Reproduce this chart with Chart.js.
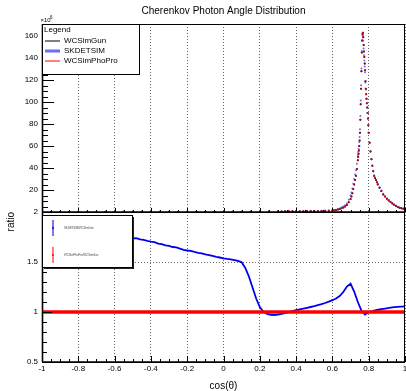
<!DOCTYPE html>
<html>
<head>
<meta charset="utf-8">
<script src="https://cdn.jsdelivr.net/npm/chart.js@4.4.0/dist/chart.umd.min.js"></script>
<style>
  html, body { margin: 0; padding: 0; background: #fff; }
  #wrap { position: relative; width: 406px; height: 391px; overflow: hidden; }
  canvas { position: absolute; left: 0; }
  #topPad { top: 0; }
  #ratioPad { top: 205px; }
</style>
</head>
<body>
<div id="wrap">
  <canvas id="topPad" width="406" height="213"></canvas>
  <canvas id="ratioPad" width="406" height="186"></canvas>
</div>
<script>
// ---- data ----
// upper pad: entries per bin, in units of 10^6
const topCos = [
  -1, -0.95, -0.9, -0.85, -0.8, -0.75, -0.7, -0.65, -0.6, -0.55, -0.5, -0.45, -0.4,
  -0.35, -0.3, -0.25, -0.2, -0.15, -0.1, -0.05, 0, 0.05, 0.1, 0.15, 0.2, 0.25,
  0.3, 0.32, 0.34, 0.36, 0.38, 0.4, 0.42, 0.44, 0.46, 0.48, 0.5, 0.52, 0.54, 0.56, 0.58,
  0.6, 0.61, 0.62, 0.63, 0.64, 0.65, 0.66, 0.67, 0.68, 0.69,
  0.7, 0.705, 0.71, 0.715, 0.72, 0.725, 0.73, 0.735,
  0.74, 0.742, 0.744, 0.746, 0.748, 0.75, 0.752, 0.754, 0.756, 0.758, 0.76, 0.762,
  0.764, 0.766, 0.768, 0.77, 0.772, 0.774, 0.776, 0.778, 0.78, 0.782, 0.784, 0.786,
  0.788, 0.79, 0.792, 0.794, 0.796, 0.798, 0.8,
  0.805, 0.81, 0.815, 0.82, 0.825, 0.83, 0.835, 0.84, 0.845, 0.85,
  0.86, 0.87, 0.88, 0.89, 0.9, 0.91, 0.92, 0.93, 0.94, 0.95, 0.96, 0.97, 0.98, 0.99, 1
];
const gunCounts = [
  0.1, 0.1, 0.1, 0.1, 0.1, 0.1, 0.1, 0.12, 0.12, 0.12, 0.12, 0.12, 0.14,
  0.14, 0.14, 0.15, 0.15, 0.16, 0.17, 0.18, 0.19, 0.2, 0.22, 0.26, 0.32, 0.4,
  0.5, 0.55, 0.6, 0.62, 0.66, 0.7, 0.72, 0.76, 0.8, 0.85, 0.9, 0.95, 1.0, 1.06, 1.15,
  1.3, 1.5, 1.8, 2.2, 2.8, 3.4, 4.1, 5.0, 6.4, 8.8,
  11.8, 14, 17, 21, 25, 29, 33, 39,
  47, 50, 53, 56, 60, 65, 72, 84, 98, 112, 128, 145,
  156, 162, 163, 159, 152, 146, 141, 135, 129, 119, 112, 107,
  103, 99, 95, 90, 85, 79, 72,
  63, 55, 48, 42, 37, 33, 31, 29, 27, 25,
  22, 19, 16, 14, 12, 10.5, 9, 7.8, 6.6, 5.5, 4.6, 3.9, 3.3, 2.9, 2.6
];
const skdetsimCounts = [
  0.18, 0.18, 0.18, 0.18, 0.18, 0.18, 0.18, 0.21, 0.21, 0.21, 0.21, 0.21, 0.24,
  0.24, 0.23, 0.25, 0.24, 0.26, 0.27, 0.28, 0.29, 0.31, 0.33, 0.35, 0.33, 0.39,
  0.49, 0.54, 0.59, 0.62, 0.67, 0.71, 0.74, 0.79, 0.83, 0.89, 0.95, 1.01, 1.08, 1.16, 1.27,
  1.45, 1.69, 2.04, 2.52, 3.25, 4.0, 4.92, 6.15, 8.0, 11.2,
  15.2, 17.8, 21.3, 25.8, 30.1, 34.2, 38, 43.9,
  51.7, 54.5, 57.2, 59.9, 63.6, 68.3, 75.2, 87.4, 101.4, 115.4, 130.6, 146.5,
  156, 160.4, 160.6, 155.8, 148.7, 142.5, 137.9, 132.3, 127.1, 117.8, 111.4, 107,
  103, 99, 95, 90, 85, 79, 72,
  63.2, 55.2, 48.2, 42.3, 37.3, 33.3, 31.3, 29.3, 27.4, 25.4,
  22.5, 19.5, 16.5, 14.4, 12.4, 10.9, 9.4, 8.1, 6.9, 5.8, 4.8, 4.1, 3.5, 3.1, 2.75
];
// WCSimPhoPro / WCSimGun sits on 1 everywhere, so the two histograms coincide
const phoProCounts = gunCounts.slice();

// lower pad: ratios
const ratioCos = [
  -1, -0.98, -0.96, -0.94, -0.92, -0.9, -0.88, -0.86, -0.84, -0.82,
  -0.8, -0.78, -0.76, -0.74, -0.72, -0.7, -0.68, -0.66, -0.64, -0.62,
  -0.6, -0.58, -0.56, -0.54, -0.52, -0.5, -0.48, -0.46, -0.44, -0.42,
  -0.4, -0.38, -0.36, -0.34, -0.32, -0.3, -0.28, -0.26, -0.24, -0.22,
  -0.2, -0.18, -0.16, -0.14, -0.12, -0.1, -0.08, -0.06, -0.04, -0.02,
  0, 0.02, 0.04, 0.06, 0.08, 0.1, 0.12, 0.14, 0.16, 0.18,
  0.2, 0.22, 0.24, 0.26, 0.28, 0.3, 0.32, 0.34, 0.36, 0.38,
  0.4, 0.42, 0.44, 0.46, 0.48, 0.5, 0.52, 0.54, 0.56, 0.58,
  0.6, 0.62, 0.64, 0.66, 0.68, 0.7, 0.72, 0.74, 0.76, 0.78,
  0.8, 0.82, 0.84, 0.86, 0.88, 0.9, 0.92, 0.94, 0.96, 0.98, 1
];
const skdetsimRatio = [
  1.86, 1.855, 1.85, 1.84, 1.835, 1.83, 1.82, 1.815, 1.81, 1.805,
  1.8, 1.79, 1.79, 1.78, 1.78, 1.77, 1.77, 1.765, 1.76, 1.755,
  1.75, 1.75, 1.745, 1.74, 1.742, 1.735, 1.738, 1.727, 1.722, 1.712,
  1.703, 1.698, 1.684, 1.679, 1.666, 1.661, 1.65, 1.646, 1.634, 1.622,
  1.615, 1.611, 1.601, 1.592, 1.586, 1.576, 1.569, 1.561, 1.552, 1.545,
  1.537, 1.531, 1.526, 1.519, 1.512, 1.497, 1.44, 1.355, 1.245, 1.135,
  1.05, 1.003, 0.98, 0.972, 0.97, 0.974, 0.982, 0.99, 0.998, 1.008,
  1.018, 1.026, 1.034, 1.042, 1.05, 1.058, 1.068, 1.078, 1.09, 1.103,
  1.118, 1.135, 1.16, 1.2, 1.255, 1.283, 1.205, 1.1, 1.015, 0.975,
  1.0, 1.01, 1.018, 1.025, 1.031, 1.037, 1.043, 1.048, 1.051, 1.054, 1.057
];
const phoProRatioCos = [-1, 1];
const phoProRatio = [1, 1];

const FONT = "'Liberation Sans', Arial, Helvetica, sans-serif";
Chart.defaults.font.family = FONT;
Chart.defaults.color = '#000';

const points = (xs, ys) => xs.map((x, i) => ({ x: x, y: ys[i] }));
// ROOT prints 1 not 1.0
const plainNum = v => String(Math.round(v * 100) / 100);

// ROOT style frame: thicker axes on left/bottom
function drawFrame(chart) {
  const { ctx, chartArea: a } = chart;
  ctx.save();
  ctx.strokeStyle = '#000';
  ctx.lineWidth = 1;
  ctx.strokeRect(a.left + 0.5, a.top + 0.5, a.right - a.left - 1, a.bottom - a.top);
  ctx.lineWidth = 1.6;
  ctx.beginPath();
  ctx.moveTo(a.left + 0.5, a.top);
  ctx.lineTo(a.left + 0.5, a.bottom);
  ctx.moveTo(a.left, a.bottom);
  ctx.lineTo(a.right, a.bottom);
  ctx.stroke();
  ctx.restore();
}

// inward tick marks
function drawTicks(chart, t) {
  const { ctx, chartArea: a, scales: { x, y } } = chart;
  ctx.save();
  ctx.strokeStyle = '#000';
  ctx.lineWidth = 1;
  ctx.beginPath();
  const nx = Math.round((x.max - x.min) / t.xMinor);
  for (let i = 0; i <= nx; i++) {
    const v = x.min + i * t.xMinor;
    const px = Math.round(x.getPixelForValue(v)) + 0.5;
    const len = (i % t.xPer === 0) ? t.xMajorLen : t.xMinorLen;
    ctx.moveTo(px, a.bottom);
    ctx.lineTo(px, a.bottom - len);
  }
  const ny = Math.floor((y.max - y.min) / t.yMinor + 1e-6);
  for (let i = 0; i <= ny; i++) {
    const v = y.min + i * t.yMinor;
    const py = Math.round(y.getPixelForValue(v)) + 0.5;
    const len = (i % t.yPer === 0) ? t.yMajorLen : t.yMinorLen;
    ctx.moveTo(a.left, py);
    ctx.lineTo(a.left + len, py);
  }
  ctx.stroke();
  ctx.restore();
}

const topDecor = {
  id: 'topDecor',
  afterDatasetsDraw(chart) {
    drawFrame(chart);
    drawTicks(chart, { xMinor: 0.05, xPer: 4, xMajorLen: 4, xMinorLen: 2, yMinor: 5, yPer: 4, yMajorLen: 12, yMinorLen: 6 });
  },
  afterDraw(chart) {
    const { ctx, chartArea: a } = chart;
    ctx.save();
    // exponent
    ctx.fillStyle = '#000';
    ctx.textBaseline = 'alphabetic';
    ctx.textAlign = 'left';
    ctx.font = '6px ' + FONT;
    ctx.fillText('×10', a.left - 1.5, a.top - 2);
    ctx.font = '4.5px ' + FONT;
    ctx.fillText('6', a.left + 8, a.top - 5);
    // legend box
    const l = a.left, t = a.top;
    ctx.fillStyle = '#fff';
    ctx.fillRect(l, t, 97, 50);
    ctx.strokeStyle = '#000';
    ctx.lineWidth = 1;
    ctx.strokeRect(l + 0.5, t + 0.5, 97, 50);
    ctx.fillStyle = '#000';
    ctx.textBaseline = 'middle';
    ctx.font = '8px ' + FONT;
    ctx.fillText('Legend', l + 2, t + 6);
    const rows = [
      { text: 'WCSimGun', color: '#000', w: 1 },
      { text: 'SKDETSIM', color: '#6b6bff', w: 3 },
      { text: 'WCSimPhoPro', color: '#ff0000', w: 1 }
    ];
    rows.forEach((r, i) => {
      const yy = t + 17 + i * 10;
      ctx.strokeStyle = r.color;
      ctx.lineWidth = r.w;
      ctx.beginPath();
      ctx.moveTo(l + 3, yy);
      ctx.lineTo(l + 18, yy);
      ctx.stroke();
      ctx.fillStyle = '#000';
      ctx.fillText(r.text, l + 22, yy);
    });
    ctx.restore();
  }
};

const ratioDecor = {
  id: 'ratioDecor',
  afterDatasetsDraw(chart) {
    drawFrame(chart);
    drawTicks(chart, { xMinor: 0.05, xPer: 4, xMajorLen: 6, xMinorLen: 3, yMinor: 0.1, yPer: 5, yMajorLen: 10, yMinorLen: 5 });
  },
  afterDraw(chart) {
    const { ctx, chartArea: a } = chart;
    const l = a.left, t = a.top + 3, w = 90, h = 52;
    ctx.save();
    ctx.fillStyle = '#222';
    ctx.fillRect(l + 2, t + 2, w, h);
    ctx.fillStyle = '#fff';
    ctx.fillRect(l, t, w, h);
    ctx.strokeStyle = '#000';
    ctx.lineWidth = 1;
    ctx.strokeRect(l + 0.5, t + 0.5, w, h);
    const rows = [
      { text: 'SKDETSIM/WCSimGun', color: '#2222dd', yy: t + 13, half: 8 },
      { text: 'WCSimPhoPro/WCSimGun', color: '#ff2222', yy: t + 40, half: 8 }
    ];
    ctx.textBaseline = 'middle';
    ctx.textAlign = 'left';
    rows.forEach(r => {
      ctx.strokeStyle = r.color;
      ctx.lineWidth = 1.2;
      ctx.beginPath();
      ctx.moveTo(l + 11, r.yy - r.half);
      ctx.lineTo(l + 11, r.yy + r.half);
      ctx.stroke();
      ctx.fillStyle = r.color;
      ctx.fillRect(l + 10, r.yy - 1, 2, 2);
      ctx.fillStyle = '#444';
      ctx.font = '2.8px ' + FONT;
      ctx.fillText(r.text, l + 22, r.yy);
    });
    ctx.restore();
  }
};

const noPad = s => { s.paddingLeft = 0; s.paddingRight = 0; s.paddingTop = 0; s.paddingBottom = 0; };

new Chart(document.getElementById('topPad'), {
  type: 'scatter',
  data: {
    datasets: [
      { label: 'WCSimGun', data: points(topCos, gunCounts), backgroundColor: '#000', order: 3 },
      { label: 'SKDETSIM', data: points(topCos, skdetsimCounts), backgroundColor: 'rgba(80,80,255,0.85)', order: 2 },
      { label: 'WCSimPhoPro', data: points(topCos, phoProCounts), backgroundColor: 'rgba(200,0,0,0.85)', order: 1 }
    ]
  },
  options: {
    responsive: false,
    animation: false,
    events: [],
    layout: { padding: { right: 1 } },
    elements: { point: { radius: 1, borderWidth: 0, hoverRadius: 0 } },
    plugins: {
      legend: { display: false },
      tooltip: { enabled: false },
      title: {
        display: true,
        fullSize: false,
        text: 'Cherenkov Photon Angle Distribution',
        color: '#000',
        font: { size: 10, weight: 'normal' },
        padding: { top: 5, bottom: 7 }
      }
    },
    scales: {
      x: {
        type: 'linear', min: -1, max: 1,
        ticks: { display: false, stepSize: 0.2 },
        grid: { color: '#666', drawTicks: false },
        border: { display: false, dash: [1, 2] },
        afterFit: s => { s.height = 1; noPad(s); }
      },
      y: {
        min: 0, max: 171,
        ticks: { stepSize: 20, includeBounds: false, padding: 4, font: { size: 8 }, callback: v => (v === 0 ? '' : plainNum(v)) },
        grid: { display: false, drawTicks: false },
        border: { display: false },
        afterFit: s => { s.width = 42; noPad(s); }
      }
    }
  },
  plugins: [topDecor]
});

new Chart(document.getElementById('ratioPad'), {
  type: 'scatter',
  data: {
    datasets: [
      { label: 'WCSimPhoPro/WCSimGun', data: points(phoProRatioCos, phoProRatio), showLine: true, borderColor: '#ff0000', borderWidth: 3.5, pointRadius: 0, order: 1 },
      { label: 'SKDETSIM/WCSimGun', data: points(ratioCos, skdetsimRatio), showLine: true, borderColor: '#0000ee', borderWidth: 1.8, pointRadius: 0, order: 2 }
    ]
  },
  options: {
    responsive: false,
    animation: false,
    events: [],
    layout: { padding: { top: 7, right: 1 } },
    plugins: { legend: { display: false }, tooltip: { enabled: false } },
    scales: {
      x: {
        type: 'linear', min: -1, max: 1,
        ticks: { stepSize: 0.2, padding: 2, font: { size: 8 }, maxRotation: 0, autoSkip: false, callback: v => plainNum(v) },
        grid: { color: '#666', drawTicks: false },
        border: { display: false, dash: [1, 2] },
        title: { display: true, text: 'cos(θ)', font: { size: 10, lineHeight: 1 }, padding: { top: 0, bottom: 0 } },
        afterFit: s => { s.height = 29; noPad(s); }
      },
      y: {
        min: 0.5, max: 2,
        ticks: { stepSize: 0.5, padding: 4, font: { size: 8 }, callback: v => plainNum(v) },
        grid: { color: '#666', drawTicks: false },
        border: { display: false, dash: [1, 2] },
        title: { display: true, text: 'ratio', align: 'end', font: { size: 10 }, padding: { top: 5, bottom: 0 } },
        afterFit: s => { s.width = 42; noPad(s); }
      }
    }
  },
  plugins: [ratioDecor]
});
</script>
</body>
</html>
